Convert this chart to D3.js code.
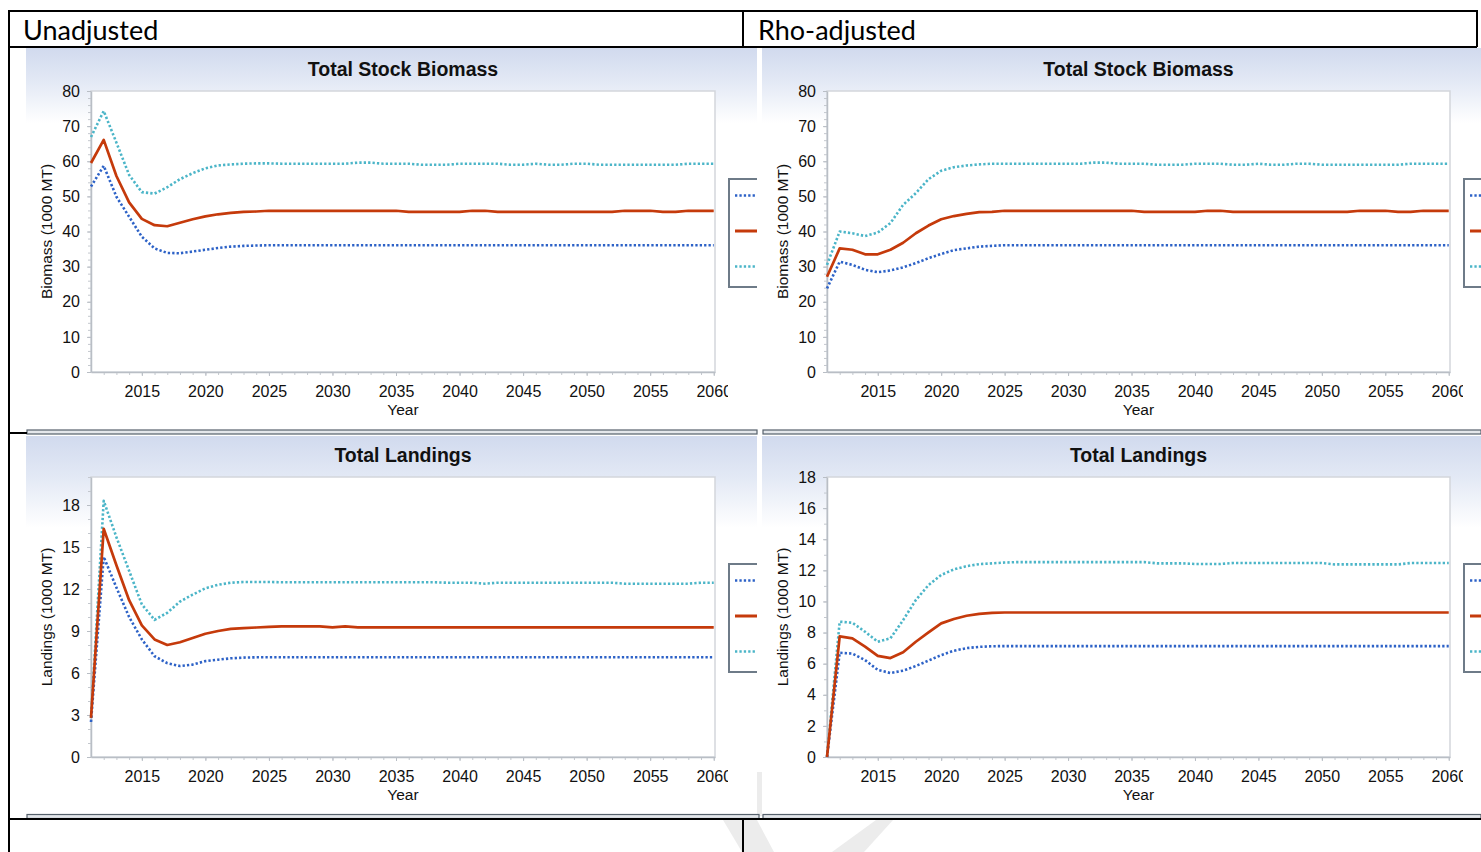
<!DOCTYPE html>
<html><head><meta charset="utf-8">
<script src="https://cdn.jsdelivr.net/npm/d3@7/dist/d3.min.js"></script>
<style>body{margin:0;background:#fff;overflow:hidden} svg{display:block}</style>
</head><body>
<svg id="c" width="1481" height="852"></svg>
<script>
// ---------- DATA ----------
const years = [2011,2012,2013,2014,2015,2016,2017,2018,2019,2020,
  2021,2022,2023,2024,2025,2026,2027,2028,2029,2030,
  2031,2032,2033,2034,2035,2036,2037,2038,2039,2040,
  2041,2042,2043,2044,2045,2046,2047,2048,2049,2050,
  2051,2052,2053,2054,2055,2056,2057,2058,2059,2060];

const headerLabels = ["Unadjusted", "Rho-adjusted"];
const panelTitles = ["Total Stock Biomass", "Total Landings"];
const yAxisTitles = ["Biomass (1000 MT)", "Landings (1000 MT)"];
const xAxisTitle = "Year";
const xTickYears = [2015,2020,2025,2030,2035,2040,2045,2050,2055,2060];

// Unadjusted – biomass
const unadjBiomassLow = [52.8,58.7,49.9,44.2,38.5,35.2,33.9,33.8,34.3,34.8,
  35.3,35.7,35.9,36.0,36.1,36.1,36.1,36.1,36.1,36.1,
  36.1,36.1,36.1,36.1,36.1,36.1,36.1,36.1,36.1,36.1,
  36.1,36.1,36.1,36.1,36.1,36.1,36.1,36.1,36.1,36.1,
  36.1,36.1,36.1,36.1,36.1,36.1,36.1,36.1,36.1,36.1];
const unadjBiomassMed = [59.5,66.1,55.8,48.3,43.6,41.8,41.5,42.5,43.5,44.3,
  44.9,45.3,45.6,45.7,45.9,45.9,45.9,45.9,45.9,45.9,
  45.9,45.9,45.9,45.9,45.9,45.6,45.6,45.6,45.6,45.6,
  45.9,45.9,45.6,45.6,45.6,45.6,45.6,45.6,45.6,45.6,
  45.6,45.6,45.9,45.9,45.9,45.6,45.6,45.9,45.9,45.9];
const unadjBiomassHigh = [66.9,74.3,65.3,56.1,51.2,50.8,52.6,54.9,56.6,58.0,
  58.8,59.1,59.3,59.4,59.4,59.3,59.3,59.3,59.3,59.3,
  59.3,59.6,59.6,59.3,59.3,59.3,59.0,59.0,59.0,59.3,
  59.3,59.3,59.3,59.0,59.0,59.3,59.0,59.0,59.3,59.3,
  59.0,59.0,59.0,59.0,59.0,59.0,59.0,59.3,59.3,59.3];

// Rho-adjusted – biomass
const rhoBiomassLow = [23.8,31.4,30.5,29.1,28.4,28.9,29.8,31.0,32.4,33.6,
  34.7,35.2,35.7,35.9,36.1,36.1,36.1,36.1,36.1,36.1,
  36.1,36.1,36.1,36.1,36.1,36.1,36.1,36.1,36.1,36.1,
  36.1,36.1,36.1,36.1,36.1,36.1,36.1,36.1,36.1,36.1,
  36.1,36.1,36.1,36.1,36.1,36.1,36.1,36.1,36.1,36.1];
const rhoBiomassMed = [27.1,35.2,34.8,33.5,33.5,34.8,36.8,39.5,41.7,43.5,
  44.4,45.0,45.5,45.6,45.9,45.9,45.9,45.9,45.9,45.9,
  45.9,45.9,45.9,45.9,45.9,45.6,45.6,45.6,45.6,45.6,
  45.9,45.9,45.6,45.6,45.6,45.6,45.6,45.6,45.6,45.6,
  45.6,45.6,45.9,45.9,45.9,45.6,45.6,45.9,45.9,45.9];
const rhoBiomassHigh = [30.5,40.0,39.5,38.7,39.7,42.4,47.6,50.9,54.9,57.3,
  58.3,58.8,59.1,59.3,59.3,59.3,59.3,59.3,59.3,59.3,
  59.3,59.6,59.6,59.3,59.3,59.3,59.0,59.0,59.0,59.3,
  59.3,59.3,59.0,59.0,59.3,59.0,59.0,59.3,59.3,59.0,
  59.0,59.0,59.0,59.0,59.0,59.0,59.3,59.3,59.3,59.3];

// Unadjusted – landings
const unadjLandLow = [2.5,14.3,12.1,10.0,8.4,7.2,6.7,6.5,6.6,6.85,
  6.95,7.05,7.1,7.12,7.12,7.12,7.12,7.12,7.12,7.12,
  7.12,7.12,7.12,7.12,7.12,7.12,7.12,7.12,7.12,7.12,
  7.12,7.12,7.12,7.12,7.12,7.12,7.12,7.12,7.12,7.12,
  7.12,7.12,7.12,7.12,7.12,7.12,7.12,7.12,7.12,7.12];
const unadjLandMed = [2.8,16.3,13.7,11.2,9.4,8.4,8.0,8.2,8.5,8.8,
  9.0,9.15,9.2,9.25,9.3,9.33,9.33,9.33,9.33,9.26,
  9.33,9.26,9.26,9.26,9.26,9.26,9.26,9.26,9.26,9.26,
  9.26,9.26,9.26,9.26,9.26,9.26,9.26,9.26,9.26,9.26,
  9.26,9.26,9.26,9.26,9.26,9.26,9.26,9.26,9.26,9.26];
const unadjLandHigh = [2.8,18.3,15.7,13.3,10.9,9.8,10.3,11.1,11.6,12.05,
  12.3,12.45,12.5,12.5,12.5,12.48,12.48,12.48,12.48,12.48,
  12.48,12.48,12.48,12.48,12.48,12.48,12.48,12.48,12.45,12.45,
  12.45,12.38,12.45,12.45,12.45,12.45,12.45,12.45,12.45,12.45,
  12.45,12.45,12.38,12.38,12.38,12.38,12.38,12.38,12.45,12.45];

// Rho-adjusted – landings
const rhoLandLow = [0,6.7,6.65,6.23,5.6,5.4,5.55,5.85,6.2,6.55,
  6.83,7.0,7.08,7.12,7.13,7.13,7.13,7.13,7.13,7.13,
  7.13,7.13,7.13,7.13,7.13,7.13,7.13,7.13,7.13,7.13,
  7.13,7.13,7.13,7.13,7.13,7.13,7.13,7.13,7.13,7.13,
  7.13,7.13,7.13,7.13,7.13,7.13,7.13,7.13,7.13,7.13];
const rhoLandMed = [0,7.75,7.63,7.1,6.5,6.36,6.73,7.41,8.01,8.59,
  8.87,9.08,9.2,9.26,9.29,9.29,9.29,9.29,9.29,9.29,
  9.29,9.29,9.29,9.29,9.29,9.29,9.29,9.29,9.29,9.29,
  9.29,9.29,9.29,9.29,9.29,9.29,9.29,9.29,9.29,9.29,
  9.29,9.29,9.29,9.29,9.29,9.29,9.29,9.29,9.29,9.29];
const rhoLandHigh = [0,8.7,8.63,8.05,7.41,7.63,8.8,10.09,11.05,11.7,
  12.06,12.27,12.4,12.45,12.5,12.53,12.53,12.53,12.53,12.53,
  12.53,12.53,12.53,12.53,12.53,12.53,12.45,12.45,12.45,12.41,
  12.41,12.41,12.47,12.47,12.47,12.47,12.47,12.47,12.47,12.47,
  12.38,12.38,12.38,12.38,12.38,12.38,12.47,12.47,12.47,12.47];

const biomassTicks = [0,10,20,30,40,50,60,70,80];
const landUnadjTicks = [0,3,6,9,12,15,18];
const landRhoTicks = [0,2,4,6,8,10,12,14,16,18];

// ---------- STYLE ----------
const colLow = "#2d62c7", colMed = "#c53a0b", colHigh = "#4bb5c8";
const fontChart = "'Liberation Sans', Arial, sans-serif";

const svg = d3.select("#c");
const defs = svg.append("defs");
const grad = defs.append("linearGradient").attr("id","hdrGrad")
  .attr("x1",0).attr("y1",0).attr("x2",0).attr("y2",1);
grad.append("stop").attr("offset","0").attr("stop-color","#d1daee");
grad.append("stop").attr("offset","0.45").attr("stop-color","#e3e9f5");
grad.append("stop").attr("offset","1").attr("stop-color","#ffffff");

svg.append("rect").attr("width",1481).attr("height",852).attr("fill","#fff");

// watermark (faint)
const wm = svg.append("g").attr("fill","#ececec");
wm.append("polygon").attr("points","756,772 763,772 763,816 756,816");
wm.append("polygon").attr("points","723,820 757,820 774,852 742,852");
wm.append("polygon").attr("points","876,820 893,820 864,852 832,852");

let clipN = 0;
function panel(o) {
  const id = "clip" + (clipN++);
  defs.append("clipPath").attr("id", id).append("rect")
    .attr("x", o.ix).attr("y", o.iy).attr("width", o.iw).attr("height", o.ih);
  const g = svg.append("g").attr("clip-path", `url(#${id})`);
  g.append("rect").attr("x", o.ix).attr("y", o.iy).attr("width", o.iw).attr("height", o.ih).attr("fill","#fff");
  g.append("rect").attr("x", o.ix).attr("y", o.iy).attr("width", o.iw).attr("height", o.gradH).attr("fill","url(#hdrGrad)");

  const x = d3.scaleLinear().domain([2011, 2060.1]).range([o.l, o.r]);
  const y = d3.scaleLinear().domain([0, o.yMax]).range([o.b, o.t]);

  // plot area
  g.append("rect").attr("x", o.l).attr("y", o.t).attr("width", o.r - o.l).attr("height", o.b - o.t)
    .attr("fill","#fff").attr("stroke","#d3d6db").attr("stroke-width",1.5);

  // title
  g.append("text").attr("x", (o.l + o.r) / 2).attr("y", o.t - 15).attr("text-anchor","middle")
    .attr("font-family", fontChart).attr("font-weight","bold").attr("font-size",19.5).attr("fill","#111")
    .text(o.title);

  // minor ticks
  const yMinor = d3.range(0, o.yMax + 0.001, o.yMinorStep);
  g.append("g").attr("transform",`translate(${o.l},0)`)
    .call(d3.axisLeft(y).tickValues(yMinor).tickSize(3).tickFormat("").tickSizeOuter(0))
    .call(s => { s.select(".domain").remove(); s.selectAll("line").attr("stroke","#c4c8ce"); });
  g.append("g").attr("transform",`translate(0,${o.b})`)
    .call(d3.axisBottom(x).tickValues(years.slice(1)).tickSize(3).tickFormat("").tickSizeOuter(0))
    .call(s => { s.select(".domain").remove(); s.selectAll("line").attr("stroke","#c4c8ce"); });

  // major y axis
  g.append("g").attr("transform",`translate(${o.l},0)`)
    .call(d3.axisLeft(y).tickValues(o.yTicks).tickSize(4).tickPadding(7).tickSizeOuter(0))
    .call(s => {
      s.select(".domain").attr("stroke","#b9bec5").attr("stroke-width",1.5);
      s.selectAll("line").attr("stroke","#b9bec5");
      s.selectAll("text").attr("font-family", fontChart).attr("font-size",16).attr("fill","#111");
    });

  // major x axis (labels clipped at the right)
  const lid = "clipL" + (clipN++);
  defs.append("clipPath").attr("id", lid).append("rect")
    .attr("x", o.l - 40).attr("y", o.b - 5).attr("width", o.r - o.l + 53).attr("height", 40);
  g.append("g").attr("clip-path", `url(#${lid})`)
    .append("g").attr("transform",`translate(0,${o.b})`)
    .call(d3.axisBottom(x).tickValues(xTickYears).tickSize(4).tickPadding(9.5).tickSizeOuter(0).tickFormat(d3.format("d")))
    .call(s => {
      s.select(".domain").attr("stroke","#b9bec5").attr("stroke-width",1.5);
      s.selectAll("line").attr("stroke","#b9bec5");
      s.selectAll("text").attr("font-family", fontChart).attr("font-size",16).attr("fill","#111");
    });

  // axis titles
  g.append("text").attr("x", (o.l + o.r) / 2).attr("y", o.b + 43).attr("text-anchor","middle")
    .attr("font-family", fontChart).attr("font-size",15.5).attr("fill","#111").text(xAxisTitle);
  g.append("text").attr("transform",`translate(${o.l - 39},${(o.t + o.b) / 2}) rotate(-90)`)
    .attr("text-anchor","middle").attr("font-family", fontChart).attr("font-size",15.5).attr("fill","#111")
    .text(o.ytitle);

  // lines
  const line = d3.line().x((d, i) => x(years[i])).y(d => y(d));
  const series = [
    {v: o.high, c: colHigh, dash: "2.3,2.1", w: 2.6},
    {v: o.low,  c: colLow,  dash: "2.3,2.1", w: 2.6},
    {v: o.med,  c: colMed,  dash: null, w: 2.7}
  ];
  series.forEach(s => {
    g.append("path").datum(s.v).attr("d", line).attr("fill","none")
      .attr("stroke", s.c).attr("stroke-width", s.w)
      .attr("stroke-dasharray", s.dash).attr("stroke-linejoin","round");
  });

  // legend box (partially clipped)
  const ly = o.legY;
  g.append("rect").attr("x", o.r + 14).attr("y", ly).attr("width", 80).attr("height", 108)
    .attr("fill","#fff").attr("stroke","#6e7b88").attr("stroke-width",2);
  [[colLow, 16.5, "2.3,2.1"], [colMed, 52, null], [colHigh, 87.5, "2.3,2.1"]].forEach(([c, dy, da]) => {
    g.append("line").attr("x1", o.r + 20).attr("x2", o.r + 60).attr("y1", ly + dy).attr("y2", ly + dy)
      .attr("stroke", c).attr("stroke-width", da ? 2.6 : 2.8).attr("stroke-dasharray", da);
  });
}

const X2 = 736, Y2 = 385;
// top-left
panel({ix:26, iy:48, iw:731, ih:382, gradH:75, l:91, r:715, t:91, b:372, yMax:80, yTicks:biomassTicks, yMinorStep:2,
  title:panelTitles[0], ytitle:yAxisTitles[0], low:unadjBiomassLow, med:unadjBiomassMed, high:unadjBiomassHigh, legY:179});
// top-right
panel({ix:762, iy:48, iw:719, ih:382, gradH:75, l:91+X2, r:715+X2-1, t:91, b:372, yMax:80, yTicks:biomassTicks, yMinorStep:2,
  title:panelTitles[0], ytitle:yAxisTitles[0], low:rhoBiomassLow, med:rhoBiomassMed, high:rhoBiomassHigh, legY:179});
// bottom-left
panel({ix:26, iy:436, iw:731, ih:379, gradH:92, l:91, r:715, t:91+Y2+1, b:372+Y2, yMax:20, yTicks:landUnadjTicks, yMinorStep:1,
  title:panelTitles[1], ytitle:yAxisTitles[1], low:unadjLandLow, med:unadjLandMed, high:unadjLandHigh, legY:179+Y2});
// bottom-right
panel({ix:762, iy:436, iw:719, ih:379, gradH:92, l:91+X2, r:715+X2-1, t:91+Y2+1, b:372+Y2, yMax:18, yTicks:landRhoTicks, yMinorStep:1,
  title:panelTitles[1], ytitle:yAxisTitles[1], low:rhoLandLow, med:rhoLandMed, high:rhoLandHigh, legY:179+Y2});

// image separators (double grey lines)
function dbl(x1, x2, yy) {
  svg.append("rect").attr("x", x1).attr("y", yy).attr("width", x2 - x1).attr("height", 4)
    .attr("fill","#e4e7eb").attr("stroke","#56616c").attr("stroke-width",1.2);
}
dbl(27, 757, 430);
dbl(763, 1481, 430);
dbl(27, 759, 814.5);
dbl(763, 1481, 814.5);

// table lines
const tl = svg.append("g").attr("stroke","#000").attr("stroke-width",2);
tl.append("line").attr("x1",9).attr("x2",1477).attr("y1",11).attr("y2",11);
tl.append("line").attr("x1",9).attr("x2",1477).attr("y1",47).attr("y2",47);
tl.append("line").attr("x1",9).attr("x2",9).attr("y1",10).attr("y2",852);
tl.append("line").attr("x1",743).attr("x2",743).attr("y1",11).attr("y2",47);
tl.append("line").attr("x1",1477).attr("x2",1477).attr("y1",10).attr("y2",47);
tl.append("line").attr("x1",9).attr("x2",27).attr("y1",433).attr("y2",433);
tl.append("line").attr("x1",9).attr("x2",1481).attr("y1",819).attr("y2",819);
tl.append("line").attr("x1",743).attr("x2",743).attr("y1",819).attr("y2",852);

// header labels
svg.selectAll("text.hdr").data(headerLabels).enter().append("text").attr("class","hdr")
  .attr("x", (d, i) => i === 0 ? 23 : 758).attr("y", 40)
  .attr("font-family","Lato, 'Open Sans', sans-serif").attr("font-size",27).attr("fill","#000")
  .text(d => d);
</script>
</body></html>
